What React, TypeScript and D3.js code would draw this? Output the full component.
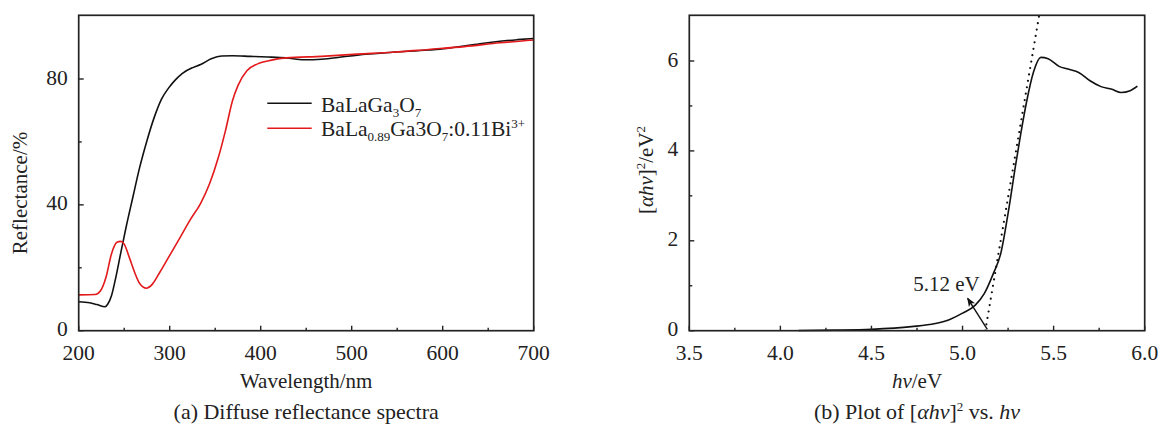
import React from "react";
import * as d3 from "d3";

// ---------- Data (a) Diffuse reflectance spectra ----------
const wlBlack = [200, 212, 220, 229, 232, 236, 240, 246, 252, 259.5, 267, 275, 283, 291, 298.7, 306.5, 314, 326, 334, 345.6, 357, 369, 388.7, 408, 428, 447.5, 467, 486.6, 506, 545, 584.5, 604, 623.7, 643, 663, 682, 700];
const rBlack = [9.2, 8.9, 8.3, 7.6, 8.5, 11.1, 15.9, 24.4, 32.8, 42.4, 51.9, 60.4, 67.8, 73.6, 77.1, 79.8, 81.8, 83.7, 84.6, 86.4, 87.3, 87.4, 87.2, 87.0, 86.7, 86.1, 86.3, 86.9, 87.6, 88.5, 89.2, 89.7, 90.5, 91.3, 92.0, 92.5, 92.9];
const wlRed = [200, 218, 224, 230, 236, 242, 246, 250, 255.6, 261.5, 267, 274.4, 281, 289, 298.7, 310.4, 322, 334, 343.7, 353.5, 361.3, 369, 375, 384.8, 396.6, 412, 428, 467, 506, 545, 584.5, 623.7, 663, 700];
const rRed = [11.4, 11.5, 12.7, 17.0, 24.4, 28.1, 28.4, 27.5, 23.3, 18.5, 15.0, 13.5, 14.8, 18.5, 23.3, 29.1, 35.0, 40.5, 46.6, 55.1, 63.6, 73.1, 77.9, 82.6, 84.8, 86.0, 86.7, 87.2, 87.9, 88.5, 89.4, 90.3, 91.5, 92.4];
const xTicksA = [200, 300, 400, 500, 600, 700];
const xMinorA = [250, 350, 450, 550, 650];
const yTicksA = [0, 40, 80];
const yMinorA = [20, 60];

// ---------- Data (b) [αhv]^2 vs hv ----------
const hv = [4.1, 4.3, 4.5, 4.72, 4.85, 4.93, 5.0, 5.07, 5.12, 5.17, 5.21, 5.25, 5.29, 5.32, 5.35, 5.39, 5.43, 5.47, 5.53, 5.58, 5.64, 5.70, 5.76, 5.82, 5.87, 5.92, 5.96];
const ahv2 = [0.005, 0.012, 0.03, 0.09, 0.16, 0.25, 0.39, 0.57, 0.83, 1.28, 1.72, 2.61, 3.65, 4.39, 5.06, 5.76, 6.08, 6.05, 5.88, 5.82, 5.74, 5.56, 5.43, 5.37, 5.30, 5.34, 5.44];
const tangentX = [5.125, 5.42];
const tangentY = [0, 7.0];
const arrowX = [5.136, 5.028];
const arrowY = [0.03, 0.72];
const xTicksB = [3.5, 4.0, 4.5, 5.0, 5.5, 6.0];
const xMinorB = [3.75, 4.25, 4.75, 5.25, 5.75];
const yTicksB = [0, 2, 4, 6];
const yMinorB = [1, 3, 5];

const FONT = "'Liberation Serif', 'Times New Roman', serif";
const FS = 21.5;
const AXIS = "#222";

type Frame = { x0: number; x1: number; y0: number; y1: number };
const frameA: Frame = { x0: 78.7, x1: 533.7, y0: 15.3, y1: 330.7 };
const frameB: Frame = { x0: 689.3, x1: 1144.7, y0: 15.3, y1: 330.7 };

function Axes({ f, x, y, xt, xm, yt, ym, xfmt }: any) {
  return (
    <g>
      <rect x={f.x0} y={f.y0} width={f.x1 - f.x0} height={f.y1 - f.y0} fill="none" stroke={AXIS} strokeWidth={1.7} />
      {xt.map((t: number) => (
        <g key={"xt" + t}>
          <line x1={x(t)} x2={x(t)} y1={f.y1} y2={f.y1 - 5} stroke={AXIS} strokeWidth={1.4} />
          <text x={x(t)} y={360} textAnchor="middle" fontFamily={FONT} fontSize={FS} fill="#222">{xfmt(t)}</text>
        </g>
      ))}
      {xm.map((t: number) => (
        <line key={"xm" + t} x1={x(t)} x2={x(t)} y1={f.y1} y2={f.y1 - 3} stroke={AXIS} strokeWidth={1.4} />
      ))}
      {yt.map((t: number) => (
        <g key={"yt" + t}>
          <line x1={f.x0} x2={f.x0 + 5} y1={y(t)} y2={y(t)} stroke={AXIS} strokeWidth={1.4} />
          <text x={f.x0 - 11} y={y(t) + 5.5} textAnchor="end" fontFamily={FONT} fontSize={FS} fill="#222">{t}</text>
        </g>
      ))}
      {ym.map((t: number) => (
        <line key={"ym" + t} x1={f.x0} x2={f.x0 + 3} y1={y(t)} y2={y(t)} stroke={AXIS} strokeWidth={1.4} />
      ))}
    </g>
  );
}

export default function App() {
  const xA = d3.scaleLinear().domain([200, 700]).range([frameA.x0, frameA.x1]);
  const yA = d3.scaleLinear().domain([0, 80]).range([frameA.y1, 79]);
  const xB = d3.scaleLinear().domain([3.5, 6.0]).range([frameB.x0, frameB.x1]);
  const yB = d3.scaleLinear().domain([0, 6]).range([frameB.y1, 61]);

  const lineA = d3.line<[number, number]>().x((d) => xA(d[0])).y((d) => yA(d[1])).curve(d3.curveMonotoneX);
  const lineB = d3.line<[number, number]>().x((d) => xB(d[0])).y((d) => yB(d[1])).curve(d3.curveMonotoneX);

  const black = wlBlack.map((w, i) => [w, rBlack[i]] as [number, number]);
  const red = wlRed.map((w, i) => [w, rRed[i]] as [number, number]);
  const curveB = hv.map((h, i) => [h, ahv2[i]] as [number, number]);

  const cxA = (frameA.x0 + frameA.x1) / 2;
  const cxB = (frameB.x0 + frameB.x1) / 2;

  return (
    <svg width={1159} height={429} style={{ position: "absolute", left: 0, top: 0, background: "#fff" }}>
      <defs>
        <marker id="ah" viewBox="0 0 10 10" refX="9" refY="5" markerWidth="9" markerHeight="9" orient="auto" markerUnits="userSpaceOnUse">
          <path d="M0,1 L10,5 L0,9 L2.5,5 Z" fill="#111" />
        </marker>
        <clipPath id="clipB">
          <rect x={frameB.x0} y={frameB.y0} width={frameB.x1 - frameB.x0} height={frameB.y1 - frameB.y0} />
        </clipPath>
      </defs>
      <rect x={0} y={0} width={1159} height={429} fill="#fff" />

      {/* ---------- Panel (a) ---------- */}
      <path d={lineA(black) || ""} fill="none" stroke="#111" strokeWidth={1.6} />
      <path d={lineA(red) || ""} fill="none" stroke="#e31a1c" strokeWidth={1.6} />
      <Axes f={frameA} x={xA} y={yA} xt={xTicksA} xm={xMinorA} yt={yTicksA} ym={yMinorA} xfmt={(t: number) => String(t)} />

      {/* legend */}
      <line x1={267.3} x2={311.7} y1={103.3} y2={103.3} stroke="#111" strokeWidth={1.6} />
      <text x={321} y={111.5} fontFamily={FONT} fontSize={FS} fill="#222">
        BaLaGa<tspan fontSize={13} dy={5}>3</tspan><tspan dy={-5}>O</tspan><tspan fontSize={13} dy={5}>7</tspan>
      </text>
      <line x1={267.3} x2={311.7} y1={128.3} y2={128.3} stroke="#e31a1c" strokeWidth={1.6} />
      <text x={321} y={136.3} fontFamily={FONT} fontSize={FS} fill="#222">
        BaLa<tspan fontSize={13} dy={5}>0.89</tspan><tspan dy={-5}>Ga3O</tspan><tspan fontSize={13} dy={5}>7</tspan><tspan dy={-5}>:0.11Bi</tspan><tspan fontSize={13} dy={-8}>3+</tspan>
      </text>

      <text x={cxA} y={388} textAnchor="middle" fontFamily={FONT} fontSize={21} fill="#222">Wavelength/nm</text>
      <text transform={`translate(26.5,193) rotate(-90)`} textAnchor="middle" fontFamily={FONT} fontSize={21} fill="#222">Reflectance/%</text>
      <text x={cxA} y={419} textAnchor="middle" fontFamily={FONT} fontSize={22} fill="#222">(a) Diffuse reflectance spectra</text>

      {/* ---------- Panel (b) ---------- */}
      <g clipPath="url(#clipB)">
        <line x1={xB(tangentX[0])} y1={yB(tangentY[0])} x2={xB(tangentX[1])} y2={yB(tangentY[1])} stroke="#111" strokeWidth={2.2} strokeDasharray="0 6.5" strokeLinecap="round" />
      </g>
      <path d={lineB(curveB) || ""} fill="none" stroke="#111" strokeWidth={1.6} />
      <line x1={xB(arrowX[0])} y1={yB(arrowY[0])} x2={xB(arrowX[1])} y2={yB(arrowY[1])} stroke="#111" strokeWidth={1.4} markerEnd="url(#ah)" />
      <text x={913.3} y={290.7} fontFamily={FONT} fontSize={21} fill="#222">5.12 eV</text>
      <Axes f={frameB} x={xB} y={yB} xt={xTicksB} xm={xMinorB} yt={yTicksB} ym={yMinorB} xfmt={(t: number) => t.toFixed(1)} />

      <text x={cxB} y={388} textAnchor="middle" fontFamily={FONT} fontSize={21} fill="#222">
        <tspan fontStyle="italic">hv</tspan>/eV
      </text>
      <text transform={`translate(653,170) rotate(-90)`} textAnchor="middle" fontFamily={FONT} fontSize={21} fill="#222">
        [<tspan fontStyle="italic">αhv</tspan>]<tspan fontSize={13} dy={-8}>2</tspan><tspan dy={8}>/eV</tspan><tspan fontSize={13} dy={-8}>2</tspan>
      </text>
      <text x={cxB} y={419} textAnchor="middle" fontFamily={FONT} fontSize={22} fill="#222">
        (b) Plot of [<tspan fontStyle="italic">αhv</tspan>]<tspan fontSize={13} dy={-8}>2</tspan><tspan dy={8}> vs. </tspan><tspan fontStyle="italic">hv</tspan>
      </text>
    </svg>
  );
}
